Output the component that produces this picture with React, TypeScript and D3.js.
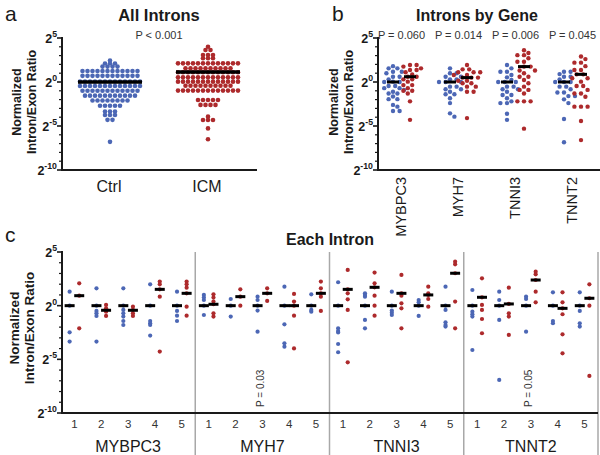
import React from 'react';
import * as d3 from 'd3';

// ---------- shared categories ----------
const GENES = ['MYBPC3', 'MYH7', 'TNNI3', 'TNNT2'];
const INTRONS = ['1', '2', '3', '4', '5'];
const GROUPS = ['Ctrl', 'ICM'];
const Y_TICKS = [5, 0, -5, -10];

// ---------- panel a : all introns (log2 ratio) ----------
const allCtrl = [
  2.45,
  2.1, 2.1, 2.1,
  1.75, 1.75, 1.75, 1.75,
  1.25, 1.25, 1.25, 1.25, 1.25, 1.25, 1.25, 1.25, 1.25, 1.25, 1.25, 1.25,
  0.7, 0.7, 0.7, 0.7, 0.7, 0.7, 0.7, 0.7, 0.7, 0.7, 0.7, 0.7,
  0.05, 0.05, 0.05, 0.05, 0.05, 0.05, 0.05, 0.05, 0.05, 0.05, 0.05, 0.05, 0.05,
  -0.45, -0.45, -0.45, -0.45, -0.45, -0.45, -0.45, -0.45, -0.45, -0.45, -0.45, -0.45, -0.45,
  -1.0, -1.0, -1.0, -1.0, -1.0, -1.0, -1.0, -1.0, -1.0, -1.0, -1.0, -1.0,
  -1.55, -1.55, -1.55, -1.55, -1.55, -1.55, -1.55, -1.55, -1.55, -1.55, -1.55,
  -2.1, -2.1, -2.1, -2.1, -2.1, -2.1, -2.1, -2.1,
  -2.7, -2.7, -2.7, -2.7, -2.7,
  -3.35, -3.35, -3.35,
  -3.75, -3.75, -3.75,
  -4.3, -4.3,
  -6.8,
];
const allICM = [
  4.0,
  3.64, 3.64,
  3.07, 3.07, 3.07,
  2.7, 2.7, 2.7,
  2.12, 2.12, 2.12, 2.12, 2.12, 2.12, 2.12, 2.12, 2.12, 2.12, 2.12, 2.12, 2.12,
  1.55, 1.55, 1.55, 1.55, 1.55, 1.55, 1.55, 1.55, 1.55, 1.55,
  1.1, 1.1, 1.1, 1.1, 1.1, 1.1, 1.1, 1.1, 1.1, 1.1, 1.1, 1.1, 1.1,
  0.53, 0.53, 0.53, 0.53, 0.53, 0.53, 0.53, 0.53, 0.53, 0.53, 0.53, 0.53, 0.53,
  0.04, 0.04, 0.04, 0.04, 0.04, 0.04, 0.04, 0.04, 0.04, 0.04, 0.04, 0.04, 0.04,
  -0.42, -0.42, -0.42, -0.42, -0.42, -0.42, -0.42, -0.42, -0.42, -0.42,
  -0.98, -0.98, -0.98, -0.98, -0.98, -0.98, -0.98, -0.98, -0.98, -0.98, -0.98, -0.98, -0.98,
  -2.05, -2.05, -2.05, -2.05, -2.05,
  -2.6, -2.6, -2.6, -2.6,
  -3.94,
  -4.32, -4.32, -4.32,
  -5.27,
  -6.5,
];
const allMeans = [0, 1.15];
const allPText = 'P < 0.001';

// ---------- panel b : introns by gene ----------
const geneCtrl = [
  [1.8, 1.55, 1.55, 1.17, 1.17, 1.0, 0.6, 0.6, 0.3, 0.04, 0, 0, -0.45, -0.45, -0.7, -0.7, -0.9, -1.1, -1.3, -1.3, -1.65, -1.95, -1.95, -2.6, -2.8, -3.3, -3.3],
  [1.55, 1.0, 1.0, 0.6, 0.6, 0.3, 0.3, 0, 0, 0, -0.53, -0.53, -0.83, -0.83, -1.1, -1.4, -1.4, -1.85, -2.4, -3.56, -3.94],
  [1.93, 1.55, 1.17, 1.17, 0.8, 0.53, 0.23, 0, 0, 0, -0.53, -0.53, -0.83, -0.83, -1.1, -1.48, -1.48, -1.85, -2.2, -2.4, -2.4, -3.6, -4.3],
  [1.17, 1.17, 0.9, 0.6, 0.6, 0.3, 0, 0, 0, -0.53, -0.53, -0.83, -1.2, -1.2, -1.6, -1.6, -1.97, -2.4, -4.2, -6.85],
];
const geneICM = [
  [1.93, 1.93, 1.75, 1.55, 1.36, 1.36, 1.1, 0.85, 0.6, 0.6, 0.3, 0.3, 0.04, -0.35, -0.35, -0.7, -1.0, -1.0, -1.3, -2.2, -4.3],
  [1.93, 1.44, 1.44, 1.1, 1.1, 1.1, 0.8, 0.8, 0.5, 0.5, 0.5, 0.15, 0.15, -0.15, -0.15, -0.53, -0.53, -1.1, -1.1, -4.1],
  [3.6, 3.3, 3.05, 3.05, 2.7, 2.3, 2.3, 1.75, 1.75, 1.3, 1.3, 1.0, 0.6, 0.6, 0.23, -0.15, -0.53, -0.9, -0.9, -1.3, -2.2, -2.2, -2.2, -5.3],
  [2.9, 2.6, 2.2, 2.2, 1.8, 1.36, 1.36, 0.87, 0.87, 0.42, 0.42, 0.04, -0.45, -0.45, -0.9, -1.3, -1.3, -1.67, -2.8, -2.8, -2.8, -4.43, -6.6],
];
const geneMeanCtrl = [0, 0, 0, 0];
const geneMeanICM = [0.6, 0.5, 1.75, 0.87];
const genePText = ['P = 0.060', 'P = 0.014', 'P = 0.006', 'P = 0.045'];

// ---------- panel c : each intron ----------
const intronCtrlMYBPC3 = [[1.3, 0, -2.48, -3.35], [1.62, 0, -0.49, -0.71, -0.96, -3.35], [1.62, 0, -0.4, -0.71, -1.02, -1.43, -1.8], [1.99, 0, -1.43, -1.64, -1.8, -2.79], [1.3, 0, -0.49, -0.93, -1.43]];
const intronICMMYBPC3 = [[2.08, 0.93, -2.11], [0.07, -0.25, -0.56, -0.96], [-0.09, -0.4, -0.71, -0.96], [2.24, 1.99, 1.52, 0.84, -4.28], [2.24, 1.99, 1.68, 1.15, -0.09, -0.93]];
const intronCtrlMYH7 = [[1.0, 0.75, 0.53, 0, -0.87], [0.62, 0, -1.02], [0.84, 0.53, 0, -0.46, -2.42], [1.77, 0, -1.74, -3.5, -3.82], [1.06, 0, -0.4, -0.56]];
const intronICMMYH7 = [[1.06, 0.75, 0.38, 0.13, -0.71, -1.02], [1.52, 0.84, 0], [1.62, 1.15, 0.44], [1.09, 0.38, 0, -0.93, -3.98], [2.24, 1.62, 1.15, 0.84, -0.49]];
const intronCtrlTNNI3 = [[2.18, 0, -2.11, -2.36, -2.49, -3.57, -4.34], [1.15, 1.0, 0.84, 0, -1.33, -2.11], [1.3, 0, -0.46, -0.65, -0.87], [0.53, 0.31, 0, -0.96], [1.77, 0, -0.4, -1.55, -1.8, -1.95]];
const intronICMTNNI3 = [[3.33, 1.52, 1.15, 0.59, -0.4, -5.28], [3.08, 2.08, 1.71, 0.93, 0, -0.93], [2.86, 1.15, 0.93, 0.22, -0.25, -2.11], [1.77, 1.15, 1.0, 0.62, -0.09], [4.1, 3.85, 3.02, 0.38, -2.11]];
const intronCtrlTNNT2 = [[1.46, 0, -0.56, -0.8, -1.02, -4.13], [1.3, 0.53, 0, -1.33, -6.92], [0.84, 0.62, 0, -2.42], [1.24, 0, -1.43, -1.64], [1.24, 0, -0.49, -1.64, -1.95]];
const intronICMTNNT2 = [[2.55, 0.78, 0.07, -0.4, -1.24, -2.57], [1.68, 0.16, -0.71, -1.02, -2.73], [3.17, 2.92, 2.39, 1.3, 0.31], [1.24, 0.31, -0.25, -0.8, -2.67, -4.44], [1.99, 0.69, 0, -6.55]];
const intronMeanICMMYBPC3 = [0.93, -0.43, -0.43, 1.52, 1.15];
const intronMeanICMMYH7 = [0.13, 0.84, 1.15, 0, 1.15];
const intronMeanICMTNNI3 = [1.52, 1.71, 1.15, 1.0, 3.02];
const intronMeanICMTNNT2 = [0.78, 0.16, 2.39, -0.25, 0.69];
const intronMeanCtrl = [0, 0, 0, 0, 0];
const intronPGene = ['MYH7', 'TNNT2'];
const intronPIntron = ['3', '3'];
const intronPText = ['P = 0.03', 'P = 0.05'];

// ---------- styling ----------
const FONT = "'Liberation Sans', Arial, Helvetica, sans-serif";
const BLUE = '#4c67b5';
const RED = '#ad2a2c';
const INK = '#1a1a1a';

const intronCtrl = [intronCtrlMYBPC3, intronCtrlMYH7, intronCtrlTNNI3, intronCtrlTNNT2];
const intronICM = [intronICMMYBPC3, intronICMMYH7, intronICMTNNI3, intronICMTNNT2];
const intronMeanICM = [intronMeanICMMYBPC3, intronMeanICMMYH7, intronMeanICMTNNI3, intronMeanICMTNNT2];

type Pt = { x: number; y: number };

function rowLayout(values: number[], cx: number, y: (v: number) => number, spacing: number): Pt[] {
  const groups = d3.group(values, (v) => v);
  const out: Pt[] = [];
  groups.forEach((vals, v) => {
    const n = vals.length;
    vals.forEach((_, i) => out.push({ x: cx + (i - (n - 1) / 2) * spacing, y: y(v) }));
  });
  return out;
}

function beeswarm(values: number[], cx: number, y: (v: number) => number, r: number): Pt[] {
  const pts = values.map((v) => y(v)).sort((a, b) => a - b);
  const placed: Pt[] = [];
  const d = 2 * r + 0.3;
  for (const py of pts) {
    for (let k = 0; k < 60; k++) {
      const off = k === 0 ? 0 : (k % 2 ? 1 : -1) * Math.ceil(k / 2) * r;
      const px = cx + off;
      const hit = placed.some((p) => (p.x - px) ** 2 + (p.y - py) ** 2 < d * d);
      if (!hit) {
        placed.push({ x: px, y: py });
        break;
      }
    }
  }
  return placed;
}

function YAxis({ x, y, labX1, labX2, labCY, labSize, tickSize }: any) {
  const [lo, hi] = y.domain();
  const minor = d3.range(lo, hi + 1).filter((v: number) => !Y_TICKS.includes(v));
  return (
    <g>
      <line x1={x} x2={x} y1={y(hi) - 1} y2={y(lo)} stroke={INK} strokeWidth={2} />
      {Y_TICKS.map((t) => (
        <line key={'M' + t} x1={x - 5} x2={x} y1={y(t)} y2={y(t)} stroke={INK} strokeWidth={1.6} />
      ))}
      {minor.map((t: number) => (
        <line key={'m' + t} x1={x - 3} x2={x} y1={y(t)} y2={y(t)} stroke={INK} strokeWidth={1.2} />
      ))}
      {Y_TICKS.map((t) => (
        <text key={'l' + t} x={x - 5} y={y(t) + 5} textAnchor="end" fontFamily={FONT} fontWeight={700} fontSize={tickSize} fill={INK}>
          <tspan>2</tspan>
          <tspan dy={-6} fontSize={tickSize * 0.7}>{String(t)}</tspan>
        </text>
      ))}
      <text transform={`translate(${labX1},${labCY}) rotate(-90)`} textAnchor="middle" fontFamily={FONT} fontWeight={700} fontSize={labSize} fill={INK}>
        Normalized
      </text>
      <text transform={`translate(${labX2},${labCY}) rotate(-90)`} textAnchor="middle" fontFamily={FONT} fontWeight={700} fontSize={labSize} fill={INK}>
        Intron/Exon Ratio
      </text>
    </g>
  );
}

export default function App() {
  // panel a scales
  const yA = d3.scaleLinear().domain([-10, 5]).range([170, 38]);
  const xA = d3.scalePoint<string>().domain(GROUPS).range([110, 208]);
  // panel b scales
  const yB = d3.scaleLinear().domain([-10, 5]).range([170, 38]);
  const xB = d3.scaleBand<string>().domain(GENES).range([373, 601]);
  const bOff = 8.5;
  // panel c scales
  const yC = d3.scaleLinear().domain([-10, 5]).range([413, 252]);
  const cKeys = GENES.flatMap((g) => INTRONS.map((i) => g + '-' + i));
  const xC = d3.scaleBand<string>().domain(cKeys).range([61, 598]);
  const cw = xC.bandwidth();
  const cOff = 4.8;
  const cc = (g: string, i: string) => (xC(g + '-' + i) as number) + cw / 2;

  const aCtrlPts = rowLayout(allCtrl, xA('Ctrl') as number, yA, 5);
  const aICMPts = rowLayout(allICM, xA('ICM') as number, yA, 5);

  return (
    <svg width={600} height={455} style={{ position: 'absolute', left: 0, top: 0, background: '#fff' }}>
      <rect width={600} height={455} fill="#fff" />

      {/* ---------------- panel a ---------------- */}
      <text x={5} y={21} fontFamily={FONT} fontSize={21} fill={INK}>a</text>
      <text x={159} y={21} textAnchor="middle" fontFamily={FONT} fontWeight={700} fontSize={16.5} fill={INK}>All Introns</text>
      <text x={159} y={39} textAnchor="middle" fontFamily={FONT} fontSize={11} fill="#333">{allPText}</text>
      {aCtrlPts.map((p, i) => <circle key={'ac' + i} cx={p.x} cy={p.y} r={2.3} fill={BLUE} />)}
      {aICMPts.map((p, i) => <circle key={'ai' + i} cx={p.x} cy={p.y} r={2.3} fill={RED} />)}
      {GROUPS.map((g, i) => (
        <line key={'am' + g} x1={(xA(g) as number) - 32} x2={(xA(g) as number) + 32} y1={yA(allMeans[i])} y2={yA(allMeans[i])} stroke="#000" strokeWidth={3.5} />
      ))}
      <YAxis x={62} y={yA} labX1={21} labX2={36} labCY={102} labSize={12.5} tickSize={12.5} />
      <line x1={61} x2={257} y1={yA(-10)} y2={yA(-10)} stroke={INK} strokeWidth={2} />
      {GROUPS.map((g) => (
        <text key={'ax' + g} x={(xA(g) as number) - 1} y={192} textAnchor="middle" fontFamily={FONT} fontSize={16} fill={INK}>{g}</text>
      ))}

      {/* ---------------- panel b ---------------- */}
      <text x={332} y={21} fontFamily={FONT} fontSize={21} fill={INK}>b</text>
      <text x={477} y={21} textAnchor="middle" fontFamily={FONT} fontWeight={700} fontSize={16} fill={INK}>Introns by Gene</text>
      {GENES.map((g, gi) => {
        const c = (xB(g) as number) + xB.bandwidth() / 2;
        const ctrlPts = beeswarm(geneCtrl[gi], c - bOff, yB, 2.2);
        const icmPts = beeswarm(geneICM[gi], c + bOff, yB, 2.2);
        return (
          <g key={'b' + g}>
            {ctrlPts.map((p, i) => <circle key={'bc' + i} cx={p.x} cy={p.y} r={2.2} fill={BLUE} />)}
            {icmPts.map((p, i) => <circle key={'bi' + i} cx={p.x} cy={p.y} r={2.2} fill={RED} />)}
            <line x1={c - bOff - 6} x2={c - bOff + 6} y1={yB(geneMeanCtrl[gi])} y2={yB(geneMeanCtrl[gi])} stroke="#000" strokeWidth={3} />
            <line x1={c + bOff - 6} x2={c + bOff + 6} y1={yB(geneMeanICM[gi])} y2={yB(geneMeanICM[gi])} stroke="#000" strokeWidth={3} />
            <text x={c} y={39} textAnchor="middle" fontFamily={FONT} fontSize={11} fill="#333">{genePText[gi]}</text>
            <text transform={`translate(${c + 4},177) rotate(-90)`} textAnchor="end" fontFamily={FONT} fontSize={14.5} fill={INK}>{g}</text>
          </g>
        );
      })}
      <YAxis x={378} y={yB} labX1={338} labX2={353} labCY={102} labSize={12.5} tickSize={12.5} />
      <line x1={377} x2={600} y1={yB(-10)} y2={yB(-10)} stroke={INK} strokeWidth={2} />

      {/* ---------------- panel c ---------------- */}
      <text x={5} y={242} fontFamily={FONT} fontSize={21} fill={INK}>c</text>
      <text x={330} y={245} textAnchor="middle" fontFamily={FONT} fontWeight={700} fontSize={16} fill={INK}>Each Intron</text>
      {GENES.slice(1).map((g) => (
        <line key={'sep' + g} x1={xC(g + '-1') as number} x2={xC(g + '-1') as number} y1={252} y2={455} stroke="#a8a8a8" strokeWidth={1.5} />
      ))}
      <line x1={xC.range()[1]} x2={xC.range()[1]} y1={252} y2={455} stroke="#a8a8a8" strokeWidth={1.5} />
      {GENES.map((g, gi) =>
        INTRONS.map((n, ii) => {
          const c = cc(g, n);
          return (
            <g key={'c' + g + n}>
              {intronCtrl[gi][ii].map((v, k) => <circle key={'cc' + k} cx={c - cOff} cy={yC(v)} r={2.1} fill={BLUE} />)}
              {intronICM[gi][ii].map((v, k) => <circle key={'ci' + k} cx={c + cOff} cy={yC(v)} r={2.1} fill={RED} />)}
              <line x1={c - cOff - 5} x2={c - cOff + 5} y1={yC(intronMeanCtrl[ii])} y2={yC(intronMeanCtrl[ii])} stroke="#000" strokeWidth={3} />
              <line x1={c + cOff - 5} x2={c + cOff + 5} y1={yC(intronMeanICM[gi][ii])} y2={yC(intronMeanICM[gi][ii])} stroke="#000" strokeWidth={3} />
              <text x={c} y={428} textAnchor="middle" fontFamily={FONT} fontSize={11.5} fill="#333">{n}</text>
            </g>
          );
        })
      )}
      {GENES.map((g) => {
        const mid = ((xC(g + '-1') as number) + (xC(g + '-5') as number) + cw) / 2;
        return <text key={'cg' + g} x={mid} y={452} textAnchor="middle" fontFamily={FONT} fontSize={16} fill={INK}>{g}</text>;
      })}
      {intronPText.map((t, i) => (
        <text key={'cp' + i} transform={`translate(${cc(intronPGene[i], intronPIntron[i]) + 1.5},407) rotate(-90)`} textAnchor="start" fontFamily={FONT} fontSize={10} fill="#333">{t}</text>
      ))}
      <YAxis x={62} y={yC} labX1={19} labX2={34} labCY={328} labSize={13.5} tickSize={12.5} />
      <line x1={61} x2={598} y1={yC(-10)} y2={yC(-10)} stroke={INK} strokeWidth={2} />
    </svg>
  );
}
